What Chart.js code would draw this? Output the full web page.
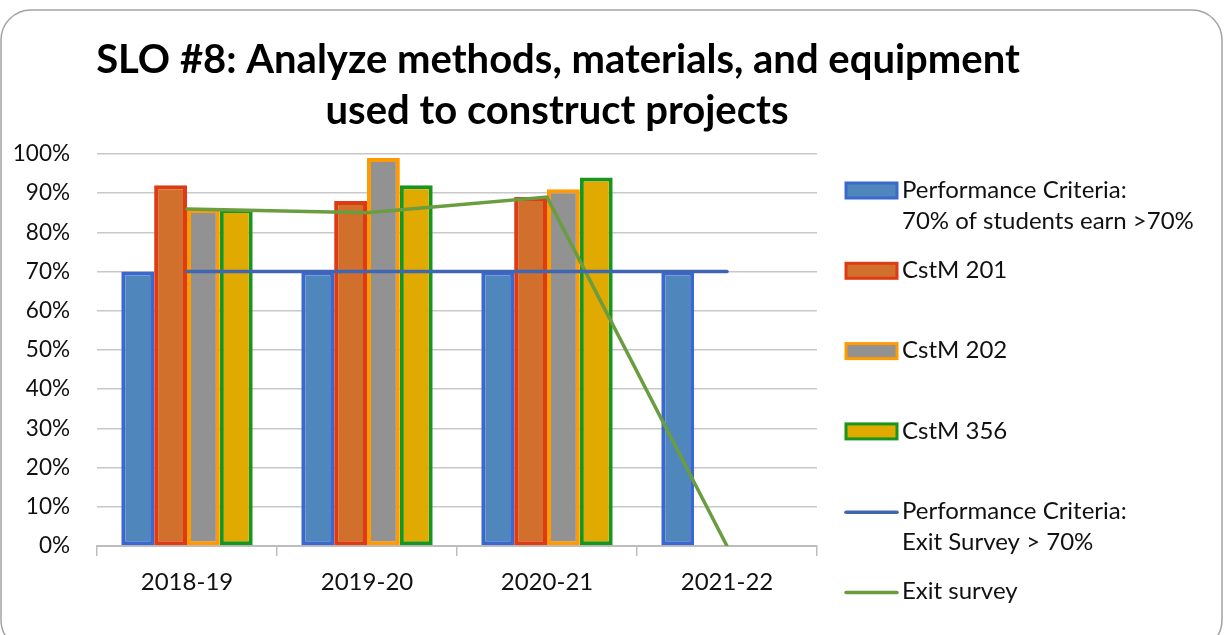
<!DOCTYPE html>
<html>
<head>
<meta charset="utf-8">
<script src="https://cdn.jsdelivr.net/npm/chart.js@4"></script>
<style>
  html, body { margin: 0; padding: 0; background: #fff; }
  canvas { display: block; }
</style>
</head>
<body>
<canvas id="sloChart" width="1225" height="635"></canvas>
<script>
    'use strict';

    // Data
    const years = ['2018-19', '2019-20', '2020-21', '2021-22'];
    const criteriaBar = [70, 70, 70, 70];
    const cstm201 = [92, 88, 89, null];
    const cstm202 = [86, 99, 91, null];
    const cstm356 = [86, 92, 94, null];
    const exitCriteria = [70, 70, 70, 70];
    const exitSurvey = [86, 85, 89, 0];

    const titleLines = ['SLO #8: Analyze methods, materials, and equipment', 'used to construct projects'];
    const FONT = 'Lato, "Open Sans", sans-serif';

    // Rounded frame, title and the hand-placed legend on the right
    const framePlugin = {
        id: 'framePlugin',
        beforeDraw(chart) {
            const ctx = chart.ctx;
            ctx.save();
            ctx.fillStyle = '#fff';
            ctx.fillRect(0, 0, chart.width, chart.height);
            ctx.beginPath();
            ctx.roundRect(1, 10, 1221, 640, 30);
            ctx.strokeStyle = '#A3A3A3';
            ctx.lineWidth = 1.5;
            ctx.stroke();
            ctx.restore();
        },
        afterDraw(chart) {
            const ctx = chart.ctx;
            ctx.save();

            // title, sized so the first line spans like the original
            ctx.font = 'bold 36px ' + FONT;
            const w = ctx.measureText(titleLines[0]).width;
            const size = 36 * 923 / w;
            ctx.font = 'bold ' + size.toFixed(1) + 'px ' + FONT;
            ctx.fillStyle = '#000';
            ctx.textAlign = 'center';
            ctx.textBaseline = 'alphabetic';
            ctx.fillText(titleLines[0], 558, 73);
            ctx.fillText(titleLines[1], 557, 124);

            // legend
            ctx.textAlign = 'left';
            ctx.textBaseline = 'middle';
            ctx.font = '24px ' + FONT;
            chart.data.datasets.forEach((ds, i) => {
                const yc = 190 + i * 80.3;
                if (ds.type === 'line') {
                    ctx.beginPath();
                    ctx.moveTo(846, yc + 1);
                    ctx.lineTo(897, yc + 1);
                    ctx.strokeStyle = ds.borderColor;
                    ctx.lineWidth = 3.5;
                    ctx.lineCap = 'round';
                    ctx.stroke();
                } else {
                    ctx.fillStyle = ds.backgroundColor;
                    ctx.fillRect(846, yc - 7, 51, 15);
                    ctx.strokeStyle = ds.borderColor;
                    ctx.lineWidth = 3;
                    ctx.strokeRect(846, yc - 7, 51, 15);
                }
                ctx.fillStyle = '#111';
                ds.label.split('\n').forEach((line, k) => {
                    ctx.fillText(line, 902, yc + k * 31);
                });
            });
            ctx.restore();
        }
    };

    const ctx = document.getElementById('sloChart').getContext('2d');
    new Chart(ctx, {
        type: 'bar',
        data: {
            labels: years,
            datasets: [
                {
                    label: 'Performance Criteria:\n70% of students earn >70%',
                    data: criteriaBar,
                    backgroundColor: '#4F87BD',
                    borderColor: '#3B68CF',
                    borderWidth: 4,
                    borderSkipped: false,
                    order: 1
                },
                {
                    label: 'CstM 201',
                    data: cstm201,
                    backgroundColor: '#D1702C',
                    borderColor: '#DE3B14',
                    borderWidth: 4,
                    borderSkipped: false,
                    order: 1
                },
                {
                    label: 'CstM 202',
                    data: cstm202,
                    backgroundColor: '#929292',
                    borderColor: '#FF9A00',
                    borderWidth: 4,
                    borderSkipped: false,
                    order: 1
                },
                {
                    label: 'CstM 356',
                    data: cstm356,
                    backgroundColor: '#E0AA00',
                    borderColor: '#17961F',
                    borderWidth: 4,
                    borderSkipped: false,
                    order: 1
                },
                {
                    type: 'line',
                    label: 'Performance Criteria:\nExit Survey > 70%',
                    data: exitCriteria,
                    borderColor: '#4066B2',
                    borderWidth: 3.5,
                    borderCapStyle: 'round',
                    pointRadius: 0,
                    tension: 0,
                    order: 0
                },
                {
                    type: 'line',
                    label: 'Exit survey',
                    data: exitSurvey,
                    borderColor: '#6A9D3F',
                    borderWidth: 3.5,
                    borderCapStyle: 'round',
                    pointRadius: 0,
                    tension: 0,
                    order: 0
                }
            ]
        },
        options: {
            responsive: false,
            animation: false,
            layout: { padding: { left: 0, top: 154, right: 408, bottom: 0 } },
            datasets: {
                bar: { categoryPercentage: 0.73, barPercentage: 1 }
            },
            plugins: {
                legend: { display: false },
                title: { display: false },
                tooltip: { enabled: false }
            },
            scales: {
                x: {
                    afterFit: s => { s.height = 89; },
                    border: { display: true, color: '#BDBDBD', width: 2 },
                    grid: {
                        offset: true,
                        drawOnChartArea: false,
                        drawTicks: true,
                        tickLength: 10,
                        color: '#BDBDBD',
                        lineWidth: 1.5
                    },
                    ticks: {
                        color: '#111',
                        padding: 12,
                        font: { family: FONT, size: 24 }
                    }
                },
                y: {
                    min: 0,
                    max: 100,
                    afterFit: s => { s.width = 97; },
                    border: { display: false },
                    grid: {
                        color: '#C8C8C8',
                        lineWidth: 1.5,
                        drawTicks: false
                    },
                    ticks: {
                        stepSize: 10,
                        padding: 27,
                        color: '#111',
                        font: { family: FONT, size: 22.5 },
                        callback: v => v + '%'
                    }
                }
            }
        },
        plugins: [framePlugin]
    });
</script>
</body>
</html>
